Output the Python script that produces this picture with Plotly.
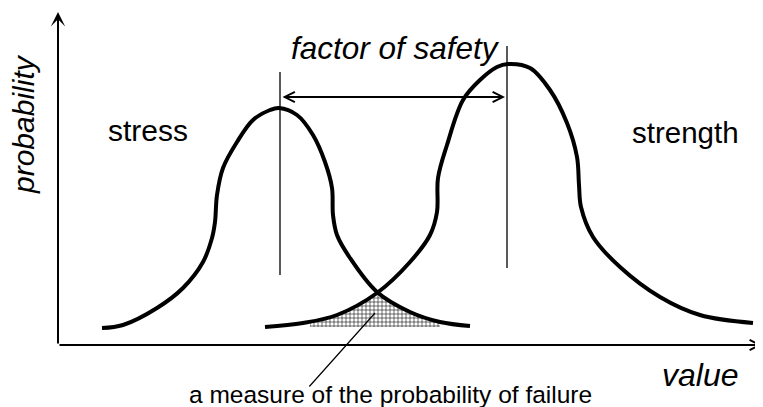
import numpy as np
import plotly.graph_objects as go

# ---- data (arbitrary "value" / "probability" units) ----
stress_x = [44, 65, 99, 125, 145, 154, 157, 159, 165, 179, 195, 212, 221, 239, 255, 267, 274, 275, 279, 292, 319, 352, 382, 412]
stress_y = [17, 20, 37, 57, 83, 107, 123, 150, 177, 203, 225, 235, 237, 230, 210, 183, 157, 130, 110, 87, 53, 33, 23, 19]

strength_x = [207, 245, 279, 319, 352, 372, 379, 380, 389, 405, 422, 439, 450, 472, 492, 509, 519, 521, 523, 535, 562, 602, 642, 695]
strength_y = [18, 22, 30, 52, 83, 110, 133, 167, 200, 245, 265, 278, 281, 277, 255, 222, 188, 160, 138, 108, 78, 48, 30, 22]

stress_mean = 222          # vertical marker line of stress
strength_mean = 449        # vertical marker line of strength
stress_mark = [70, 273]
strength_mark = [77, 299]
safety_y = 248             # level of the factor-of-safety arrow
hatch_range = [252, 382]   # extent of the hatched overlap
hatch_base = 18

FONT = "Liberation Sans, Arial, sans-serif"

fig = go.Figure()

# hatched overlap region (min of the two curves)
hx = np.array(sorted(set([x for x in stress_x + strength_x if hatch_range[0] <= x <= hatch_range[1]] + hatch_range)), dtype=float)
hy = np.minimum(np.interp(hx, stress_x, stress_y), np.interp(hx, strength_x, strength_y))
poly_x = [hatch_range[0]] + list(hx) + [hatch_range[1]]
poly_y = [hatch_base] + list(hy) + [hatch_base]
fig.add_trace(go.Scatter(
    x=poly_x, y=poly_y, mode="lines", fill="toself",
    line=dict(width=0, color="rgba(0,0,0,0)"),
    fillcolor="white",
    fillpattern=dict(shape="+", size=4, solidity=0.3, fgcolor="#222", bgcolor="white", fgopacity=1),
    hoverinfo="skip", showlegend=False))

# the two distributions
for xs, ys in [(stress_x, stress_y), (strength_x, strength_y)]:
    fig.add_trace(go.Scatter(x=xs, y=ys, mode="lines",
                             line=dict(color="black", width=4, shape="spline", smoothing=1.0),
                             hoverinfo="skip", showlegend=False))

# vertical mean lines
fig.add_trace(go.Scatter(x=[stress_mean, stress_mean], y=stress_mark, mode="lines",
                         line=dict(color="black", width=1.3), showlegend=False, hoverinfo="skip"))
fig.add_trace(go.Scatter(x=[strength_mean, strength_mean], y=strength_mark, mode="lines",
                         line=dict(color="black", width=1.3), showlegend=False, hoverinfo="skip"))

ann = []
# axes with arrows
ann.append(dict(x=0, y=333, ax=0, ay=0, xref="x", yref="y", axref="x", ayref="y",
                showarrow=True, arrowhead=3, arrowsize=1.2, arrowwidth=2, arrowcolor="black", text="", standoff=0))
ann.append(dict(x=704, y=0, ax=0, ay=0, xref="x", yref="y", axref="x", ayref="y",
                showarrow=True, arrowhead=5, arrowsize=1, arrowwidth=2, arrowcolor="black", text="", standoff=0))
# factor of safety double arrow
ann.append(dict(x=strength_mean - 2, y=safety_y, ax=stress_mean + 1, ay=safety_y, xref="x", yref="y",
                axref="x", ayref="y", showarrow=True, arrowhead=5, startarrowhead=5, arrowside="end+start",
                arrowsize=1, startarrowsize=1, arrowwidth=2, arrowcolor="black", text="", standoff=0, startstandoff=0))
# pointer line to hatched area
ann.append(dict(x=317, y=32, ax=250, ay=-43, xref="x", yref="y", axref="x", ayref="y",
                showarrow=True, arrowhead=0, arrowwidth=1.2, arrowcolor="black", text="", standoff=0))

# texts
ann.append(dict(x=337, y=297, text="<i>factor of safety</i>", showarrow=False, xref="x", yref="y",
                font=dict(family=FONT, size=31.5, color="black")))
ann.append(dict(x=90, y=215, text="stress", showarrow=False, xref="x", yref="y",
                font=dict(family=FONT, size=30, color="black")))
ann.append(dict(x=627, y=213, text="strength", showarrow=False, xref="x", yref="y",
                font=dict(family=FONT, size=29.5, color="black")))
ann.append(dict(x=642, y=-30, text="<i>value</i>", showarrow=False, xref="x", yref="y",
                font=dict(family=FONT, size=32, color="black")))
ann.append(dict(x=-35, y=221, text="<i>probability</i>", showarrow=False, xref="x", yref="y", textangle=-90,
                borderpad=0, font=dict(family=FONT, size=30, color="black")))
ann.append(dict(x=332, y=-49, text="a measure of the probability of failure", showarrow=False, xref="x", yref="y",
                borderpad=0, font=dict(family=FONT, size=24.5, color="black")))

# the page body has an 8px margin, so the figure is sized/ranged to sit at that offset
fig.update_layout(
    width=755, height=399,
    margin=dict(l=0, r=0, t=0, b=0),
    paper_bgcolor="white", plot_bgcolor="white",
    xaxis=dict(range=[-50, 705], visible=False, fixedrange=True),
    yaxis=dict(range=[-62, 337], visible=False, fixedrange=True),
    annotations=ann,
    showlegend=False,
)

fig.write_html("out.html")
